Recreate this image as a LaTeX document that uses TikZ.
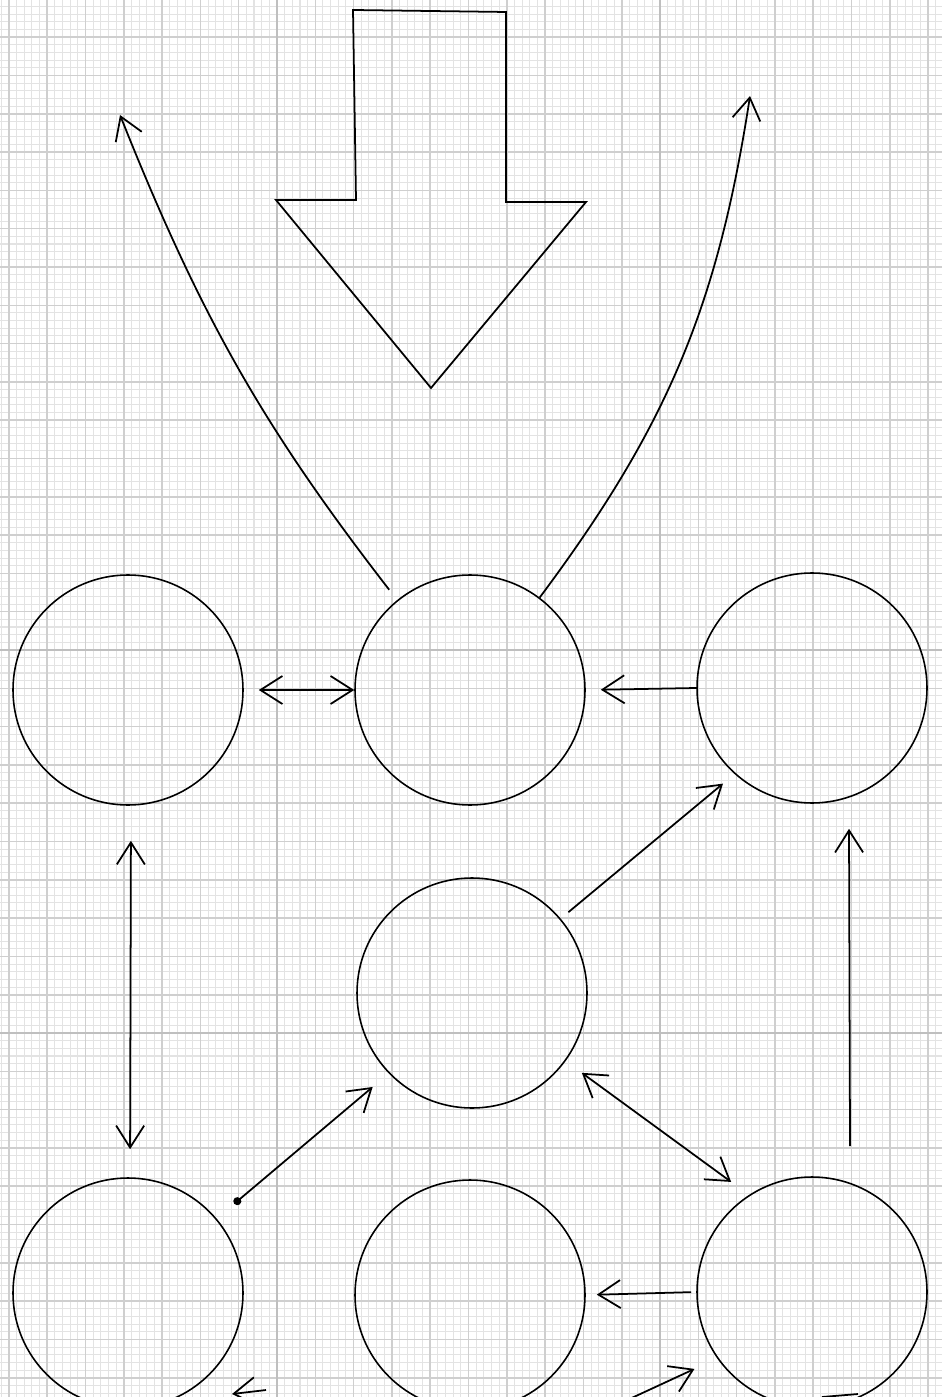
\documentclass[tikz,border=0pt]{standalone}
\usetikzlibrary{arrows.meta}
\begin{document}
\begin{tikzpicture}[
    x=0.1mm, y=-0.1mm,
    blob/.style={draw, circle, minimum size=23mm, inner sep=0pt, line width=0.45pt},
    fine/.style={gray!22, line width=0.3pt},
    midline/.style={gray!38, line width=0.45pt},
    heavy/.style={gray!50, line width=0.8pt},
    arrow/.style={-{Straight Barb[length=2.2mm, width=2.8mm]}, line width=0.5pt},
    dotarrow/.style={{Circle[length=0.8mm]}-{Straight Barb[length=2.2mm, width=2.8mm]}, line width=0.5pt},
    twoway/.style={{Straight Barb[length=2.2mm, width=2.8mm]}-{Straight Barb[length=2.2mm, width=2.8mm]}, line width=0.5pt}
  ]
    \useasboundingbox (0,0) rectangle (942,1397);
    \begin{scope}
      \clip (0,0) rectangle (942,1397);
      \foreach \k in {-36,...,87}
        \draw[fine] ({277+7.66*\k},0) -- ({277+7.66*\k},1397);
      \foreach \k in {-84,...,97}
        \draw[fine] (0,{650+7.66*\k}) -- (942,{650+7.66*\k});
      \foreach \k in {-35,-30,...,85}
        \draw[midline] ({277+7.66*\k},0) -- ({277+7.66*\k},1397);
      \foreach \k in {-80,-75,...,95}
        \draw[midline] (0,{650+7.66*\k}) -- (942,{650+7.66*\k});
      \foreach \k in {0,50} {
        \draw[heavy] ({277+7.66*\k},0) -- ({277+7.66*\k},1397);
        \draw[heavy] (0,{650+7.66*\k}) -- (942,{650+7.66*\k});
      }
    \end{scope}

    \draw[line width=0.5pt] (353,10) -- (506,12) -- (506,202) -- (586,202) -- (431,388)
      -- (276,200) -- (356,200) -- cycle;

    \node[blob] (tl) at (128,690) {};
    \node[blob] (tm) at (470,690) {};
    \node[blob] (tr) at (812,688) {};
    \node[blob] (mid) at (472,993) {};
    \node[blob] (bl) at (128,1293) {};
    \node[blob] (bm) at (470,1295) {};
    \node[blob] (br) at (812,1292) {};

    \coordinate (ltop) at (120,115);
    \coordinate (rtop) at (750,96);
    \coordinate (offb) at (597,1414);

    \draw[arrow, shorten <=1.3mm] (tm.129) to[bend left=8] (ltop);
    \draw[arrow] (tm.53) to[bend right=14] (rtop);
    \draw[twoway, shorten <=1.5mm] (tl.east) -- (tm.west);
    \draw[arrow, shorten >=1.5mm] (tr.west) -- (tm.east);
    \draw[twoway, shorten <=3.5mm, shorten >=2.8mm] ([xshift=0.3mm]tl.south) -- ([xshift=0.2mm]bl.north);
    \draw[arrow, shorten <=1mm, shorten >=1.5mm] (mid.40) -- (tr.228);
    \draw[dotarrow, shorten <=2.3mm, shorten >=2.1mm] (bl.40) -- (mid.224);
    \draw[twoway, shorten <=2mm, shorten >=2.2mm] (mid.-36) -- (br.123);
    \draw[arrow] ([xshift=3.8mm, yshift=3mm]br.north) -- ([xshift=3.7mm, yshift=-2.5mm]tr.south);
    \draw[arrow, shorten <=0.5mm, shorten >=1.1mm] (br.west) -- (bm.east);
    \draw[arrow, shorten >=2.5mm] (offb) -- (br.215);
    \draw[arrow] (266,1390) -- (232,1394);
    \draw[line width=0.5pt] (822,1397) -- (858,1394);
\end{tikzpicture}
\end{document}
